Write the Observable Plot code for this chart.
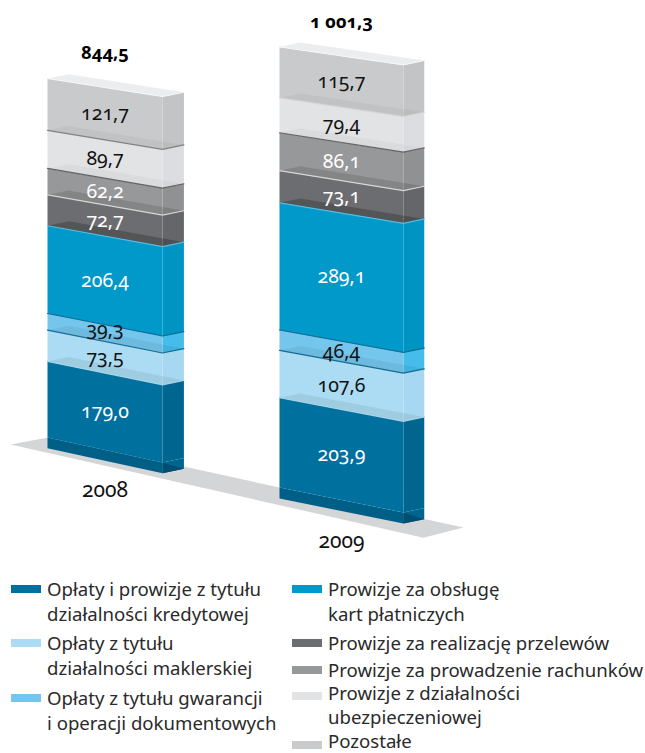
<!DOCTYPE html>
<html lang="pl">
<head>
<meta charset="utf-8">
<script src="https://cdn.jsdelivr.net/npm/d3@7"></script>
<script src="https://cdn.jsdelivr.net/npm/@observablehq/plot@0.6"></script>
<style>
html,body{margin:0;padding:0;background:#fff;overflow:hidden}
#wrap{position:relative;width:645px;height:753px;overflow:hidden}
#legend{position:absolute;left:0;top:0;width:645px;height:753px;font-family:"Noto Sans",sans-serif;font-size:18.6px;color:#2a2a2a}
.item{position:absolute;white-space:pre}
.sw{position:absolute;width:30px;height:8px}
svg{display:block}
</style>
</head>
<body>
<div id="wrap"><div id="chart"></div><div id="legend"></div></div>
<script>
const years = ["2008", "2009"];
const totals = ["844,5", "1 001,3"];
const categories = [
  "Opłaty i prowizje z tytułu\ndziałalności kredytowej",
  "Opłaty z tytułu\ndziałalności maklerskiej",
  "Opłaty z tytułu gwarancji\ni operacji dokumentowych",
  "Prowizje za obsługę\nkart płatniczych",
  "Prowizje za realizację przelewów",
  "Prowizje za prowadzenie rachunków",
  "Prowizje z działalności\nubezpieczeniowej",
  "Pozostałe"
];
const values2008 = [179.0, 73.5, 39.3, 206.4, 72.7, 62.2, 89.7, 121.7];
const values2009 = [203.9, 107.6, 46.4, 289.1, 73.1, 86.1, 79.4, 115.7];
const series = [values2008, values2009];

const frontColors = ["#00709f", "#abdcf3", "#74c6ec", "#0099c9", "#6c6d70", "#97989a", "#e2e3e5", "#c9cacc"];
const sideColors  = ["#00668f", "#a6d9f1", "#45bcea", "#0094c2", "#656669", "#909193", "#dcdde0", "#c3c4c6"];
const inks = ["#fff", "#111", "#111", "#fff", "#fff", "#fff", "#111", "#111"];
const legendSwatches = ["#00709f", "#abdcf3", "#74c6ec", "#0099c9", "#6c6d70", "#97989a", "#e2e3e5", "#c9cacc"];

// Faux-3D view: x is in chart slots (one slot per year), y is in value units.
const view = [
  {slot: 0, width: 0.496, depth: 0.092, zero: 113.6, stretch: 0.966},
  {slot: 1, width: 0.534, depth: 0.09,  zero: 0,     stretch: 1}
];
const pedestal = 25;
const floorCorners = [[-0.159, 98], [0.009, 114], [1.793, -91], [1.62, -114]];

function pt(i, u, d, v) {
  const b = view[i], total = d3.sum(series[i]);
  const slant = 57 - 16 * (v + pedestal) / (total + pedestal);
  return {
    x: b.slot + b.width * u + b.depth * d,
    y: b.zero + b.stretch * v - slant * u + 10 * d
  };
}
const poly = (pts, fill, fillOpacity = 1) =>
  Plot.line(pts, {x: "x", y: "y", fill, fillOpacity, stroke: "none"});
const front = (i, a, c, fill, op) => poly([pt(i,0,0,a), pt(i,1,0,a), pt(i,1,0,c), pt(i,0,0,c)], fill, op);
const side  = (i, a, c, fill, op) => poly([pt(i,1,0,a), pt(i,1,1,a), pt(i,1,1,c), pt(i,1,0,c)], fill, op);
const top_  = (i, v, fill, op)    => poly([pt(i,0,0,v), pt(i,0,1,v), pt(i,1,1,v), pt(i,1,0,v)], fill, op);
const edge  = (i, v, stroke, sw, op = 1) =>
  Plot.line([pt(i,0,0,v), pt(i,1,0,v), pt(i,1,1,v)], {x: "x", y: "y", stroke, strokeWidth: sw, strokeOpacity: op});

const marks = [
  poly(floorCorners.map(([x, y]) => ({x, y})), "#d4d5d7")
];
// darkness of the translucent "top face" seen through the segment above each boundary
const seamShade = [0.07, 0.06, 0.0, 0.22, 0.12, 0.03, 0.04];
const seamInk = [
  ["#a5d5ea", "#0a5f86", "#0a5f86", "#53c0e8", "#dddddd", "#55575a", "#77787a"],
  ["#a5d5ea", "#0a5f86", "#0a5f86", "#53c0e8", "#dddddd", "#55575a", "#d4d5d7"]
];
const textFont = '"Noto Sans", sans-serif';

series.forEach((vals, i) => {
  const cum = d3.cumsum(vals);
  const total = cum[cum.length - 1];
  // pedestal: the bottom face seen through the first segment
  marks.push(
    side(i, -pedestal, 0, sideColors[0]),
    front(i, -pedestal, 0, "#005f87"),
    poly([pt(i,1,0,0), pt(i,1,0,-pedestal), pt(i,1,1,-pedestal)], "#004f72")
  );
  vals.forEach((v, k) => {
    const a = k ? cum[k - 1] : 0, c = cum[k];
    marks.push(side(i, a, c, sideColors[k]), front(i, a, c, frontColors[k]));
  });
  vals.slice(0, -1).forEach((v, k) => {
    marks.push(top_(i, cum[k], "#000", seamShade[k]));
  });
  vals.slice(0, -1).forEach((v, k) => {
    marks.push(edge(i, cum[k], seamInk[i][k], 1.2, 0.9));
  });
  // lid
  marks.push(top_(i, total, "#ecedee"), edge(i, total, "#f7f7f8", 1));
  // value labels
  vals.forEach((v, k) => {
    const a = k ? cum[k - 1] : 0, c = cum[k];
    const p = pt(i, 0.5, 0, (a + c) / 2);
    marks.push(Plot.text([{...p, t: v.toFixed(1).replace(".", ",")}], {
      x: "x", y: "y", text: "t", fill: inks[k], fontSize: 19.5, fontFamily: textFont,
      dy: i === 0 && k === 2 ? -3 : 0
    }));
  });
  const tp = pt(i, 0.5, 0, total), bt = pt(i, 0.5, 0, -pedestal);
  marks.push(
    Plot.text([{...tp, t: totals[i]}], {x: "x", y: "y", text: "t", dy: -34, fill: "#000", fontSize: 18.2, fontWeight: 700, fontFamily: textFont}),
    Plot.text([{...bt, t: years[i]}], {x: "x", y: "y", text: "t", dy: 30, fill: "#111", fontSize: 21, fontFamily: textFont})
  );
});

const chart = Plot.plot({
  width: 645, height: 565,
  margin: 0,
  x: {axis: null, domain: [-47 / 232, 598 / 232], range: [0, 645]},
  y: {axis: null, domain: [(487 - 565) / 0.44, 487 / 0.44], range: [565, 0]},
  style: {fontVariantNumeric: "oldstyle-nums", background: "transparent"},
  marks
});
document.getElementById("chart").appendChild(chart);

// legend: [left, swatch centre, first-line centre, line height]
const legendSlots = [
  [11, 589, 589, 25], [11, 643, 643, 25], [11, 698, 698, 25],
  [292, 589, 589, 25], [292, 643, 643, 25], [292, 670, 670, 25],
  [292, 696, 694, 24], [292, 745, 742, 20]
];
const lg = document.getElementById("legend");
categories.forEach((c, k) => {
  const [lx, sy, ty, lh] = legendSlots[k];
  const s = document.createElement("div");
  s.className = "sw";
  s.style.cssText = `left:${lx}px;top:${sy - 4}px;background:${legendSwatches[k]}`;
  const t = document.createElement("div");
  t.className = "item";
  t.style.cssText = `left:${lx + 36}px;top:${ty - lh / 2 - 1}px;line-height:${lh}px`;
  t.textContent = c;
  lg.append(s, t);
});
</script>
</body>
</html>
